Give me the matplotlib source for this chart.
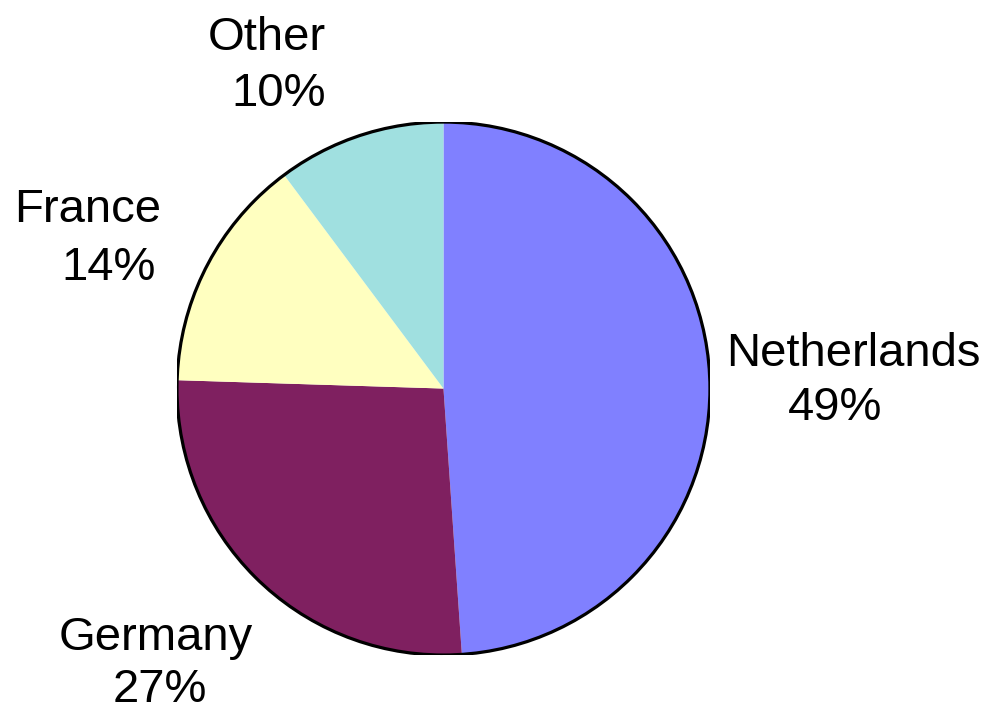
import matplotlib.pyplot as plt
from matplotlib.patches import Circle

# share of each country
countries = ["Netherlands", "Germany", "France", "Other"]
shares = [48.9, 26.6, 14.3, 10.2]
colors = ["#8080FF", "#7F2060", "#FFFFC0", "#A0E0E0"]

# where the name and the percentage go (data units, pie radius = 1)
name_pos = [(1.537, 0.084), (-1.079, -0.981), (-1.334, 0.625), (-0.662, 1.270)]
pct_pos = [(1.469, -0.118), (-1.064, -1.176), (-1.255, 0.407), (-0.617, 1.060)]

plt.rcParams["font.family"] = ["Liberation Sans", "DejaVu Sans"]

fig = plt.figure(figsize=(9.87, 7.13), dpi=100)
ax = fig.add_axes([0.1793, 0.0813, 0.540, 0.7475])

ax.pie(shares, colors=colors, startangle=90, counterclock=False,
       radius=1, wedgeprops=dict(linewidth=0, edgecolor="none"))
ax.add_patch(Circle((0, 0), 1, fill=False, edgecolor="black", linewidth=2.3))

for name, val, (nx, ny), (px, py) in zip(countries, shares, name_pos, pct_pos):
    ax.text(nx, ny, name, fontsize=34, ha="center", va="baseline")
    ax.text(px, py, f"{val:.0f}%", fontsize=34, ha="center", va="baseline")

ax.set_xlim(-1, 1)
ax.set_ylim(-1, 1)
ax.set_aspect("auto")
ax.axis("off")

fig.savefig("out.png", dpi=100)
